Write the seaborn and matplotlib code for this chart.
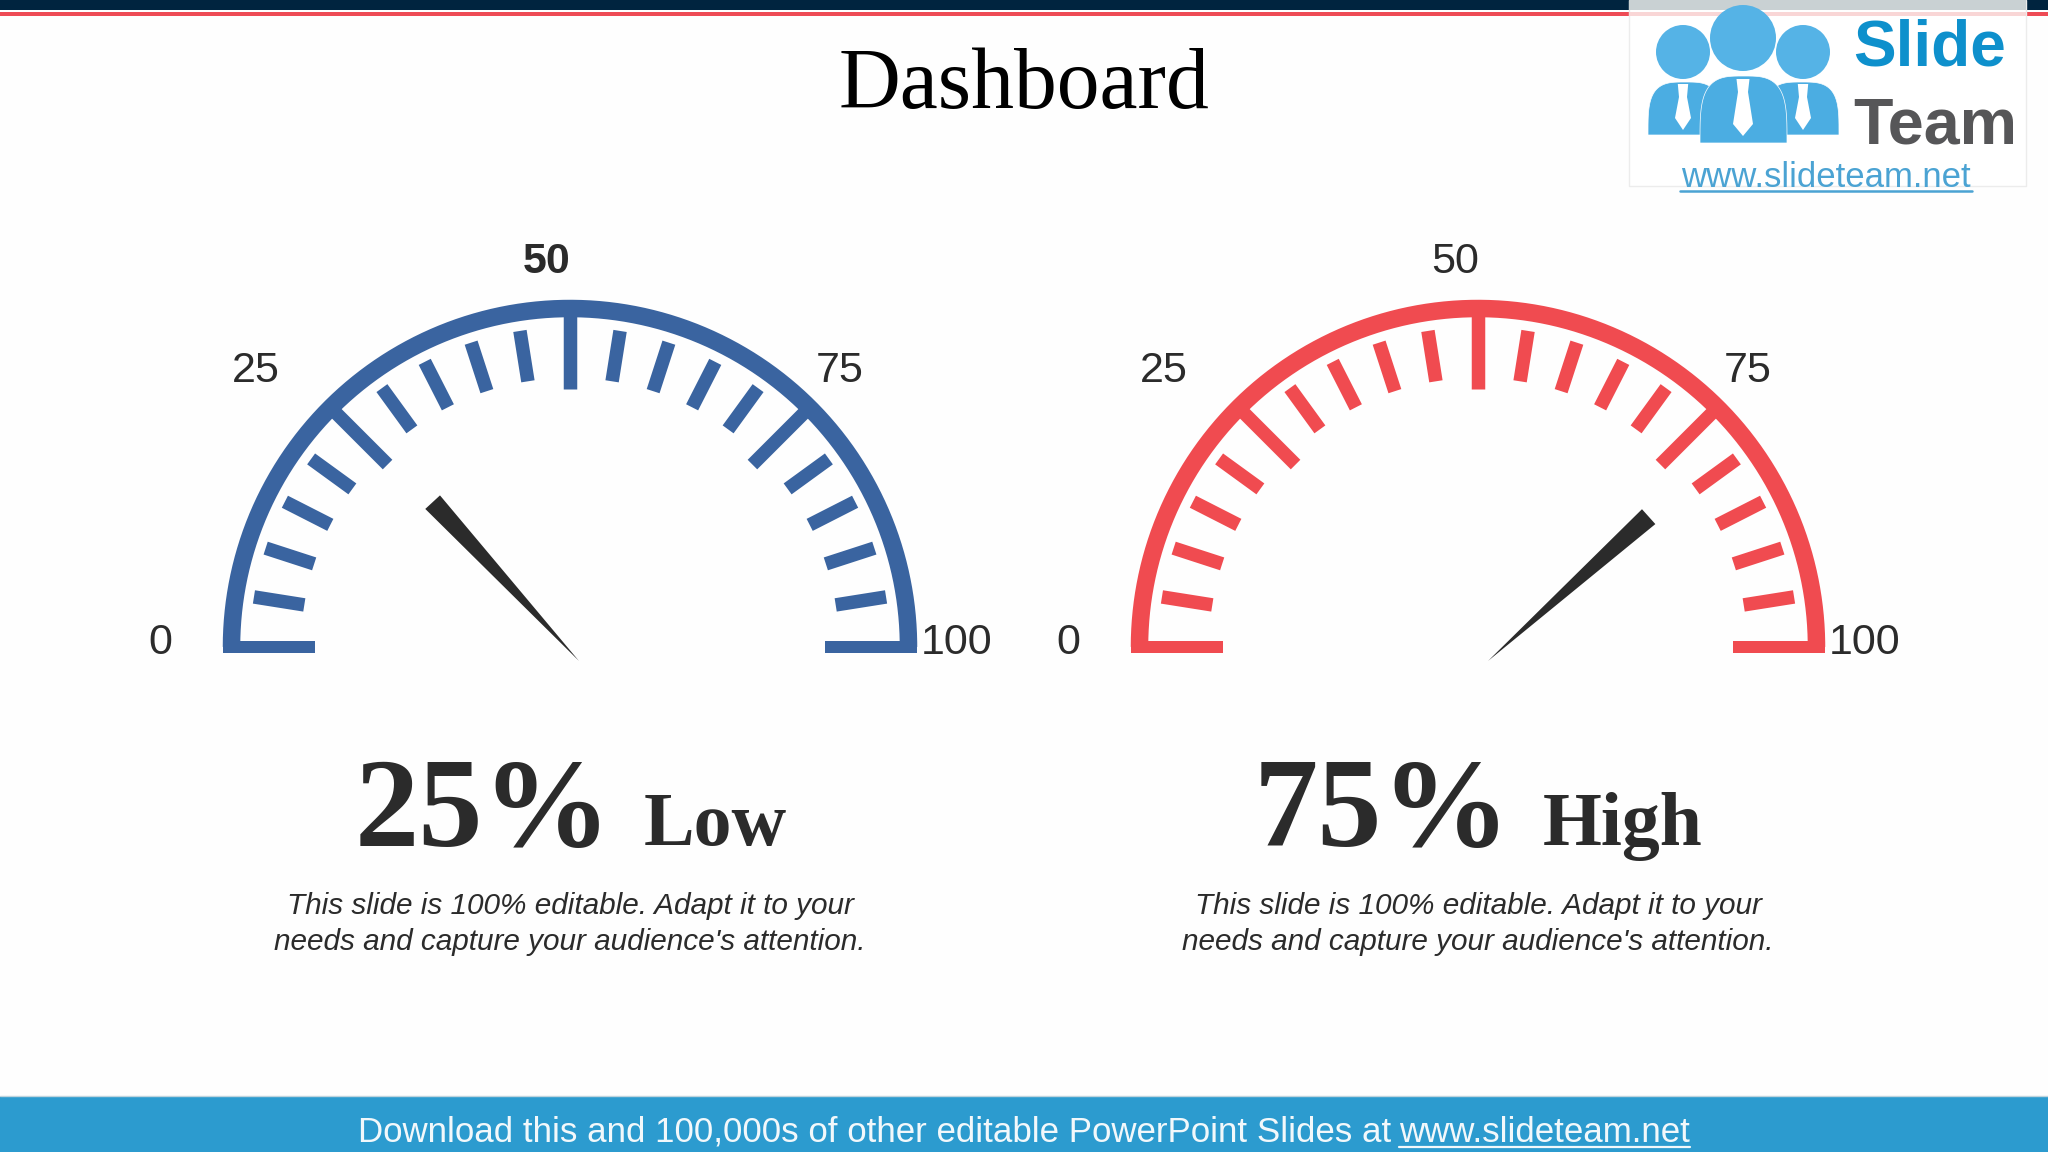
import numpy as np
import pandas as pd
import matplotlib
matplotlib.use("Agg")
import matplotlib.pyplot as plt
from matplotlib.patches import Rectangle, Circle, Polygon
import seaborn as sns

# ---- data ----
gauge_labels = ["Low", "High"]
gauge_percent = [25, 75]
needle_readings = [26.3, 76.7]
gauge_colors = ["#3A64A0", "#F04B50"]
minor_ticks = [5, 10, 15, 20, 30, 35, 40, 45, 55, 60, 65, 70, 80, 85, 90, 95]
major_ticks = [25, 50, 75]
scale_labels = ["0", "25", "50", "75", "100"]
title_text = "Dashboard"
desc_lines = ["This slide is 100% editable. Adapt it to your",
              "needs and capture your audience's attention."]
footer_text = "Download this and 100,000s of other editable PowerPoint Slides at "
footer_url = "www.slideteam.net"

# ---- layout (pixels) ----
W, H = 2048, 1152
centers_x = [570, 1478]
cy = 647
R_arc, arc_w = 338.5, 17.5
R_out, R_minor, R_major = 320, 269, 258
tick_w = 13.5
label_off = [(-410, -4), (-314, -276), (-23, -385), (270, -276), (387, -4)]
pct_x = [355, 1254]
word_x = [644, 1543]
INK = "#2B2B2B"
BG = "#FEFEFE"
px = 72 / 100  # points per pixel at dpi 100

sns.set_theme(style="white")
plt.rcParams["font.family"] = ["Liberation Sans", "DejaVu Sans"]
fig = plt.figure(figsize=(W / 100, H / 100), dpi=100, facecolor=BG)
ax = fig.add_axes([0, 0, 1, 1])
ax.set_xlim(0, W)
ax.set_ylim(H, 0)
ax.axis("off")


def polar_xy(value, r, cx):
    a = np.pi * (1 - np.asarray(value, dtype=float) / 100)
    return cx + r * np.cos(a), cy - r * np.sin(a)


def tick_frame(values, r0, r1, cx):
    rows = []
    for v in values:
        for r in (r0, r1):
            x, y = polar_xy(v, r, cx)
            rows.append({"tick": v, "x": x, "y": y})
    return pd.DataFrame(rows)


for i, cx in enumerate(centers_x):
    col = gauge_colors[i]
    # outer arc
    vals = np.linspace(0, 100, 240)
    xa, ya = polar_xy(vals, R_arc, cx)
    arc = pd.DataFrame({"x": xa, "y": ya})
    sns.lineplot(data=arc, x="x", y="y", sort=False, estimator=None, ax=ax,
                 color=col, linewidth=arc_w * px, solid_capstyle="butt", legend=False)
    # base bars
    for x0 in (cx - 347, cx + 347 - 92):
        ax.add_patch(Rectangle((x0, 640.5), 92, 12.5, fc=col, ec="none"))
    # ticks
    for vals_, r0, r1 in ((minor_ticks, R_minor, R_out), (major_ticks, R_major, R_arc)):
        sns.lineplot(data=tick_frame(vals_, r0, r1, cx),
                     x="x", y="y", units="tick", estimator=None, sort=False, ax=ax,
                     color=col, linewidth=tick_w * px, solid_capstyle="butt", legend=False)
    # needle
    tip = np.array([cx + (9 if i == 0 else 10), cy + 14])
    a = np.pi * (1 - needle_readings[i] / 100)
    d = np.array([np.cos(a), -np.sin(a)])
    n = np.array([-d[1], d[0]])
    base = tip + 216 * d
    ax.fill(*zip(tip, base + 10 * n, base - 10 * n), color=INK, lw=0, zorder=5)
    # scale labels
    for lab, off in zip(scale_labels, label_off):
        bold = (i == 0 and lab == "50")
        ax.text(cx + off[0], cy + off[1], lab, ha="center", va="center",
                fontsize=31, color=INK, fontweight="bold" if bold else "normal")
    # headline
    ax.text(pct_x[i], 846, f"{gauge_percent[i]}%", family="Liberation Serif", fontweight="bold",
            fontsize=92.5, color=INK, ha="left", va="baseline")
    ax.text(word_x[i], 845, gauge_labels[i], family="Liberation Serif", fontweight="bold",
            fontsize=54.5, color=INK, ha="left", va="baseline")
    # description
    for ln, yy in zip(desc_lines, (906.5, 942.5)):
        ax.text(cx, yy, ln, style="italic", fontsize=21.45, color=INK, ha="center", va="center")

# title
ax.text(1024, 87, title_text, family="Liberation Serif", fontsize=61.7, color="black",
        ha="center", va="center")

# header strips
ax.add_patch(Rectangle((0, 0), W, 10, fc="#00243F", ec="none"))
ax.add_patch(Rectangle((0, 12), W, 4, fc="#EE4B55", ec="none"))

# footer
ax.add_patch(Rectangle((0, 1096), W, 56, fc="#2C9BCF", ec="none"))
ax.plot([0, W], [1096, 1096], color="#BFD4DE", lw=1)
t1 = ax.text(358, 1142, footer_text, color="#F2F8FB", fontsize=25.1, ha="left", va="baseline")
r = fig.canvas.get_renderer()
bb = t1.get_window_extent(r)
x_url = bb.x1 - 2
t2 = ax.text(x_url, 1142, footer_url, color="#F2F8FB", fontsize=25.1, ha="left", va="baseline")
bb2 = t2.get_window_extent(r)
ax.plot([bb2.x0, bb2.x1], [1147, 1147], color="#F2F8FB", lw=1.6)

# logo panel
ax.add_patch(Rectangle((1629, 0), 397, 186, fc="white", ec="#ECECEC", lw=1, zorder=6))
ax.add_patch(Rectangle((1629, 0), 397, 10, fc="#C9D1D3", ec="none", zorder=6))
ax.add_patch(Rectangle((1629, 12), 397, 4, fc="#F9D6D6", ec="none", zorder=6))
BL = "#4BADE2"


def dome(x0, x1, ytop, ybot, z):
    th = np.linspace(np.pi, 0, 60)
    xc, rx = (x0 + x1) / 2, (x1 - x0) / 2
    xs = xc + rx * np.sign(np.cos(th)) * np.abs(np.cos(th)) ** 0.6
    ys = ybot - (ybot - ytop) * np.sin(th) ** 0.55
    ax.add_patch(Polygon(np.c_[xs, ys], closed=True, fc=BL, ec="#FFFFFF", lw=0.5, zorder=z))


def tie(xc, ytop, ybot, w, z):
    pts = [(xc - w * .65, ytop), (xc + w * .65, ytop), (xc + w * .5, ytop + 13),
           (xc + w, ybot - 12), (xc, ybot), (xc - w, ybot - 12), (xc - w * .5, ytop + 13)]
    ax.add_patch(Polygon(pts, closed=True, fc="white", ec="none", zorder=z))


for hx, hy, hr, z in ((1683, 52, 27, 7), (1803, 52, 27, 7), (1743, 38, 33, 8)):
    ax.add_patch(Circle((hx, hy), hr, fc="#55B3E6", ec="none", zorder=z))
dome(1648, 1722, 82, 135, 7)
dome(1764, 1839, 82, 135, 7)
tie(1683, 84, 130, 8, 7.5)
tie(1803, 84, 130, 8, 7.5)
dome(1700, 1787, 76, 143, 8)
tie(1743, 79, 136, 10, 8.5)
ax.text(1853, 65, "Slide", color="#0E90CC", fontsize=46, fontweight="bold",
        ha="left", va="baseline", zorder=9)
ax.text(1853, 143, "Team", color="#565658", fontsize=46.5, fontweight="bold",
        ha="left", va="baseline", zorder=9)
ax.text(1826, 187, "www.slideteam.net", color="#4BA3D3", fontsize=25,
        ha="center", va="baseline", zorder=9)
ax.plot([1680, 1972], [191, 191], color="#4BA3D3", lw=1.8, zorder=9)

fig.savefig("out.png", dpi=100, facecolor=BG)
